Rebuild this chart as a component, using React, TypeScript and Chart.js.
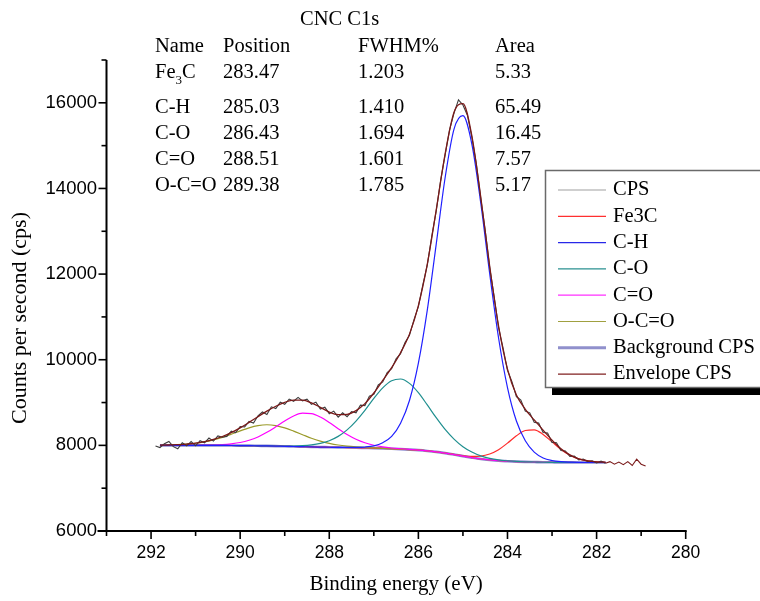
import React, { useEffect, useRef } from 'react';
import { Chart, registerables } from 'chart.js';

Chart.register(...registerables);

// ---- Fitted components on a 0.2 eV grid (binding energy, eV) ----
const fitEnergies = [291.8, 291.6, 291.4, 291.2, 291.0, 290.8, 290.6, 290.4, 290.2, 290.0, 289.8, 289.6, 289.4, 289.2, 289.0, 288.8, 288.6, 288.4, 288.2, 288.0, 287.8, 287.6, 287.4, 287.2, 287.0, 286.8, 286.6, 286.4, 286.2, 286.0, 285.8, 285.6, 285.4, 285.2, 285.0, 284.8, 284.6, 284.4, 284.2, 284.0, 283.8, 283.6, 283.4, 283.2, 283.0, 282.8, 282.6, 282.4, 282.2, 282.0, 281.8];

const backgroundCps = [8000, 8000, 8000, 8000, 8000, 7999, 7999, 7998, 7997, 7995, 7993, 7990, 7987, 7983, 7978, 7974, 7969, 7964, 7960, 7956, 7952, 7949, 7945, 7940, 7935, 7929, 7921, 7912, 7901, 7888, 7870, 7847, 7818, 7785, 7748, 7714, 7683, 7660, 7641, 7630, 7621, 7614, 7610, 7606, 7604, 7602, 7601, 7600, 7600, 7600, 7600];

const fe3c = [8000, 8000, 8000, 8000, 8000, 7999, 7999, 7998, 7997, 7995, 7993, 7990, 7987, 7983, 7978, 7974, 7969, 7964, 7960, 7956, 7952, 7949, 7945, 7940, 7935, 7929, 7921, 7912, 7901, 7888, 7870, 7847, 7819, 7789, 7759, 7743, 7750, 7798, 7898, 8052, 8223, 8347, 8363, 8256, 8081, 7905, 7771, 7684, 7639, 7616, 7605];

const cH = [8000, 8000, 8000, 8000, 8000, 7999, 7999, 7998, 7997, 7995, 7993, 7990, 7987, 7983, 7978, 7974, 7969, 7964, 7960, 7956, 7952, 7951, 7952, 7961, 7989, 8063, 8208, 8517, 9047, 9918, 11157, 12695, 14250, 15387, 15700, 15037, 13661, 12014, 10507, 9349, 8568, 8108, 7841, 7706, 7646, 7618, 7607, 7602, 7600, 7600, 7600];

const cO = [8000, 8000, 8000, 8000, 8000, 7999, 7999, 7998, 7997, 7995, 7993, 7990, 7988, 7985, 7983, 7985, 7992, 8011, 8047, 8109, 8210, 8362, 8568, 8817, 9096, 9343, 9510, 9550, 9448, 9231, 8944, 8646, 8372, 8146, 7969, 7844, 7754, 7697, 7660, 7639, 7625, 7616, 7611, 7606, 7604, 7602, 7601, 7600, 7600, 7600, 7600];

const cDoubleO = [8000, 8000, 8000, 8001, 8002, 8004, 8008, 8018, 8037, 8067, 8119, 8197, 8304, 8433, 8571, 8687, 8752, 8743, 8662, 8534, 8388, 8254, 8143, 8060, 8003, 7965, 7939, 7921, 7905, 7890, 7870, 7847, 7818, 7785, 7748, 7714, 7683, 7660, 7641, 7630, 7621, 7614, 7610, 7606, 7604, 7602, 7601, 7600, 7600, 7600, 7600];

const oCDoubleO = [8004, 8009, 8016, 8030, 8050, 8081, 8128, 8187, 8259, 8337, 8410, 8462, 8482, 8462, 8408, 8332, 8249, 8166, 8099, 8047, 8008, 7982, 7964, 7950, 7940, 7931, 7921, 7912, 7901, 7888, 7870, 7847, 7818, 7785, 7748, 7714, 7683, 7660, 7641, 7630, 7621, 7614, 7610, 7606, 7604, 7602, 7601, 7600, 7600, 7600, 7600];

const envelopeCps = [8004, 8009, 8016, 8031, 8052, 8086, 8137, 8207, 8299, 8409, 8536, 8670, 8800, 8914, 9006, 9056, 9055, 8992, 8888, 8778, 8720, 8725, 8810, 8975, 9223, 9515, 9815, 10164, 10598, 11263, 12231, 13494, 14805, 15780, 15980, 15230, 13799, 12189, 10783, 9780, 9174, 8843, 8594, 8356, 8123, 7921, 7777, 7684, 7639, 7616, 7605];

// ---- Raw counts on a 0.1 eV grid ----
const cpsEnergies = [291.9, 291.8, 291.7, 291.6, 291.5, 291.4, 291.3, 291.2, 291.1, 291.0, 290.9, 290.8, 290.7, 290.6, 290.5, 290.4, 290.3, 290.2, 290.1, 290.0, 289.9, 289.8, 289.7, 289.6, 289.5, 289.4, 289.3, 289.2, 289.1, 289.0, 288.9, 288.8, 288.7, 288.6, 288.5, 288.4, 288.3, 288.2, 288.1, 288.0, 287.9, 287.8, 287.7, 287.6, 287.5, 287.4, 287.3, 287.2, 287.1, 287.0, 286.9, 286.8, 286.7, 286.6, 286.5, 286.4, 286.3, 286.2, 286.1, 286.0, 285.9, 285.8, 285.7, 285.6, 285.5, 285.4, 285.3, 285.2, 285.1, 285.0, 284.9, 284.8, 284.7, 284.6, 284.5, 284.4, 284.3, 284.2, 284.1, 284.0, 283.9, 283.8, 283.7, 283.6, 283.5, 283.4, 283.3, 283.2, 283.1, 283.0, 282.9, 282.8, 282.7, 282.6, 282.5, 282.4, 282.3, 282.2, 282.1, 282.0, 281.9, 281.8, 281.7, 281.6, 281.5, 281.4, 281.3, 281.2, 281.1, 281.0, 280.9];

const cps = [7985, 7950, 8040, 8090, 7970, 7920, 8060, 7990, 8090, 7990,
  8110, 8060, 8170, 8100, 8220, 8190, 8210, 8330, 8300, 8440,
  8430, 8560, 8520, 8690, 8780, 8720, 8900, 8860, 9010, 8960,
  9080, 9030, 9120, 9040, 9080, 8960, 9010, 8850, 8890, 8740,
  8800, 8660, 8760, 8670, 8790, 8760, 8940, 8930, 9150, 9190,
  9410, 9480, 9700, 9790, 10020, 10140, 10400, 10570, 10930, 11240,
  11750, 12210, 12880, 13470, 14190, 14780, 15370, 15760, 16070, 15950,
  15710, 15200, 14580, 13770, 13020, 12160, 11480, 10750, 10280, 9750,
  9490, 9140, 9060, 8800, 8760, 8540, 8520, 8300, 8290, 8070,
  8060, 7880, 7870, 7740, 7750, 7660, 7680, 7620, 7640, 7590,
  7630, 7580, 7620, 7560, 7610, 7550, 7620, 7530, 7680, 7560,
  7520];

// ---- Table text ----
const tableTitle = 'CNC C1s';
const tableHeaders = ['Name', 'Position', 'FWHM%', 'Area'];
const tableNames = ['Fe3C', 'C-H', 'C-O', 'C=O', 'O-C=O'];
const tablePositions = ['283.47', '285.03', '286.43', '288.51', '289.38'];
const tableFwhm = ['1.203', '1.410', '1.694', '1.601', '1.785'];
const tableArea = ['5.33', '65.49', '16.45', '7.57', '5.17'];

// ---- Legend ----
const legendLabels = ['CPS', 'Fe3C', 'C-H', 'C-O', 'C=O', 'O-C=O', 'Background CPS', 'Envelope CPS'];
const legendColors = ['#a0a0a0', '#ff3030', '#2828e8', '#2a9090', '#ff30ff', '#a0a040', '#9090cc', '#802020'];
const legendWidths = [1.2, 1.2, 1.2, 1.2, 1.2, 1.2, 3, 1.2];

const xTitle = 'Binding energy (eV)';
const yTitle = 'Counts per second (cps)';

const SERIF = '"Liberation Serif", "Times New Roman", serif';
const SANS = '"Liberation Sans", Arial, sans-serif';

const toXY = (xs: number[], ys: number[]) => xs.map((x, i) => ({ x, y: ys[i] }));

const overlayPlugin = {
  id: 'overlay',
  afterDraw(chart: any) {
    const ctx: CanvasRenderingContext2D = chart.ctx;
    const { left, right, top, bottom } = chart.chartArea;
    const xs = chart.scales.x;
    const ys = chart.scales.y;
    ctx.save();

    // axis lines
    ctx.strokeStyle = '#000';
    ctx.lineWidth = 2;
    ctx.beginPath();
    ctx.moveTo(left, top);
    ctx.lineTo(left, bottom + 1);
    ctx.stroke();
    ctx.beginPath();
    ctx.moveTo(left - 9, bottom);
    ctx.lineTo(right + 1, bottom);
    ctx.stroke();

    // tick marks
    ctx.lineWidth = 1.6;
    xs.ticks.forEach((t: any) => {
      const px = xs.getPixelForValue(t.value);
      const len = Math.round(t.value) % 2 === 0 ? 8 : 5;
      ctx.beginPath();
      ctx.moveTo(px, bottom);
      ctx.lineTo(px, bottom + len);
      ctx.stroke();
    });
    ys.ticks.forEach((t: any) => {
      const py = ys.getPixelForValue(t.value);
      const len = Math.round(t.value) % 2000 === 0 ? 8 : 5;
      ctx.beginPath();
      ctx.moveTo(left, py);
      ctx.lineTo(left - len, py);
      ctx.stroke();
    });

    // axis titles
    ctx.fillStyle = '#000';
    ctx.textBaseline = 'middle';
    ctx.textAlign = 'center';
    ctx.font = `21px ${SERIF}`;
    ctx.fillText(xTitle, (left + right) / 2, 584);
    ctx.save();
    ctx.translate(20, 318);
    ctx.rotate(-Math.PI / 2);
    ctx.font = `22px ${SERIF}`;
    ctx.fillText(yTitle, 0, 0);
    ctx.restore();

    // table
    ctx.textAlign = 'left';
    ctx.font = `20.5px ${SERIF}`;
    ctx.fillText(tableTitle, 300, 20);
    const colX = [155, 223, 358, 495];
    tableHeaders.forEach((h, i) => ctx.fillText(h, colX[i], 47));
    const rowY = [73, 108, 134, 160, 186];
    tableNames.forEach((name, r) => {
      const y = rowY[r];
      if (name === 'Fe3C') {
        ctx.font = `20.5px ${SERIF}`;
        ctx.fillText('Fe', colX[0], y);
        const w = ctx.measureText('Fe').width;
        ctx.font = `13px ${SERIF}`;
        ctx.fillText('3', colX[0] + w, y + 8);
        const w3 = ctx.measureText('3').width;
        ctx.font = `20.5px ${SERIF}`;
        ctx.fillText('C', colX[0] + w + w3, y);
      } else {
        ctx.font = `20.5px ${SERIF}`;
        ctx.fillText(name, colX[0], y);
      }
      ctx.fillText(tablePositions[r], colX[1], y);
      ctx.fillText(tableFwhm[r], colX[2], y);
      ctx.fillText(tableArea[r], colX[3], y);
    });

    // legend box with shadow
    ctx.fillStyle = '#000';
    ctx.fillRect(552, 388, 220, 7);
    ctx.fillStyle = '#fff';
    ctx.fillRect(545, 170, 230, 217);
    ctx.strokeStyle = '#6a6a6a';
    ctx.lineWidth = 1.5;
    ctx.strokeRect(545.5, 170.5, 230, 217);
    ctx.font = `20.5px ${SERIF}`;
    legendLabels.forEach((lab, i) => {
      const y = 190 + i * 26.3;
      ctx.strokeStyle = legendColors[i];
      ctx.lineWidth = legendWidths[i];
      ctx.beginPath();
      ctx.moveTo(558, y);
      ctx.lineTo(606, y);
      ctx.stroke();
      ctx.fillStyle = '#000';
      ctx.fillText(lab, 613, y);
    });

    ctx.restore();
  },
};

export default function App() {
  const ref = useRef<HTMLCanvasElement>(null);

  useEffect(() => {
    const line = (label: string, xs: number[], ys: number[], color: string, order: number, width = 1.2, extra: any = {}) => ({
      label,
      data: toXY(xs, ys),
      borderColor: color,
      backgroundColor: color,
      borderWidth: width,
      pointRadius: 0,
      fill: false,
      order,
      cubicInterpolationMode: 'monotone',
      ...extra,
    });

    const chart = new Chart(ref.current as HTMLCanvasElement, {
      type: 'line',
      data: {
        datasets: [
          line('Envelope CPS', fitEnergies, envelopeCps, '#7a1a1a', 0, 1.3),
          line('CPS', cpsEnergies, cps, '#3c3c3c', 1, 1.1, {
            cubicInterpolationMode: 'default',
            tension: 0,
            segment: {
              borderColor: (c: any) => (c.p1.parsed.x < 281.75 ? '#7a1a1a' : '#3c3c3c'),
            },
          }),
          line('C-H', fitEnergies, cH, '#2020ff', 2),
          line('C-O', fitEnergies, cO, '#1f8f8f', 3),
          line('C=O', fitEnergies, cDoubleO, '#ff00ff', 4),
          line('O-C=O', fitEnergies, oCDoubleO, '#9a9a2a', 5),
          line('Fe3C', fitEnergies, fe3c, '#ff2a2a', 6),
          line('Background CPS', fitEnergies, backgroundCps, '#8a8ad0', 7, 2.6),
        ] as any,
      },
      options: {
        animation: false,
        responsive: false,
        devicePixelRatio: 1,
        layout: { padding: { top: 60, right: 74.3, left: 0, bottom: 0 } },
        plugins: {
          legend: { display: false },
          tooltip: { enabled: false },
          title: { display: false },
        },
        scales: {
          x: {
            type: 'linear',
            reverse: true,
            min: 280,
            max: 293,
            grid: { display: false, drawTicks: false, tickLength: 0 },
            border: { display: false },
            ticks: {
              stepSize: 1,
              autoSkip: false,
              maxRotation: 0,
              padding: 12,
              color: '#000',
              font: { family: SANS, size: 17.5 },
              callback: (v: any) => (Math.round(v) % 2 === 0 && v !== 293 ? String(v) : ''),
            },
            afterFit: (s: any) => {
              s.height = 70;
            },
          },
          y: {
            type: 'linear',
            min: 6000,
            max: 17000,
            grid: { display: false, drawTicks: false, tickLength: 0 },
            border: { display: false },
            ticks: {
              stepSize: 1000,
              autoSkip: false,
              padding: 9.5,
              color: '#000',
              font: { family: SANS, size: 18.5 },
              callback: (v: any) => (Math.round(v) % 2000 === 0 ? String(v) : ''),
            },
            afterFit: (s: any) => {
              s.width = 106.5;
            },
          },
        },
      },
      plugins: [overlayPlugin],
    });
    return () => chart.destroy();
  }, []);

  return (
    <div style={{ position: 'fixed', left: 0, top: 0, width: 760, height: 601, background: '#fff' }}>
      <canvas ref={ref} width={760} height={601} style={{ display: 'block', width: 760, height: 601 }} />
    </div>
  );
}
